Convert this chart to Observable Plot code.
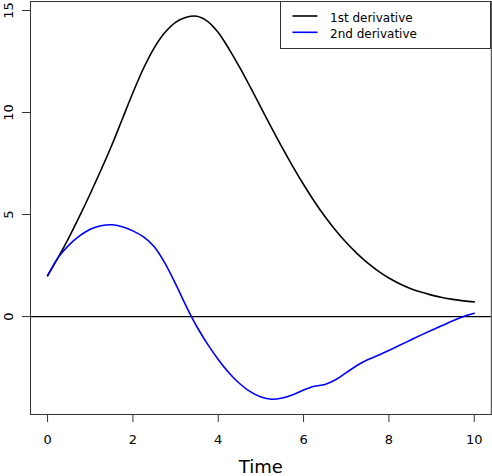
<!DOCTYPE html>
<html>
<head>
<meta charset="utf-8">
<script src="https://cdn.jsdelivr.net/npm/d3@7"></script>
<script src="https://cdn.jsdelivr.net/npm/@observablehq/plot@0.6"></script>
<style>
  html, body { margin: 0; padding: 0; background: #fff; }
  #wrap { position: relative; width: 492px; height: 476px; font-family: "DejaVu Sans", sans-serif; }
  #legend { position: absolute; left: 0; top: 0; pointer-events: none; }
</style>
</head>
<body>
<div id="wrap"></div>
<script>
const times = [0,0.25,0.5,0.75,1,1.25,1.5,1.75,2,2.25,2.5,2.75,3,3.25,3.5,3.75,4,4.25,4.5,4.75,5,5.25,5.5,5.75,6,6.25,6.5,6.75,7,7.25,7.5,7.75,8,8.25,8.5,8.75,9,9.25,9.5,9.75,10];
const firstDeriv = [2.0,2.9,3.87,4.92,6.02,7.17,8.37,9.67,10.97,12.17,13.17,13.92,14.42,14.67,14.72,14.47,13.92,13.12,12.22,11.25,10.25,9.25,8.28,7.35,6.47,5.65,4.9,4.23,3.63,3.1,2.63,2.23,1.89,1.61,1.38,1.2,1.05,0.93,0.84,0.77,0.72];
const secondDeriv = [2.0,2.9,3.5,3.95,4.28,4.45,4.5,4.4,4.2,3.9,3.42,2.62,1.6,0.5,-0.5,-1.35,-2.1,-2.75,-3.28,-3.68,-3.94,-4.05,-3.99,-3.83,-3.6,-3.42,-3.33,-3.1,-2.75,-2.4,-2.12,-1.9,-1.66,-1.41,-1.16,-0.91,-0.67,-0.44,-0.21,0.0,0.16];
const xTicks = [0,2,4,6,8,10];
const yTicks = [0,5,10,15];
const seriesNames = ["1st derivative","2nd derivative"];
const seriesColors = ["#000000","#0000ff"];

const d1 = times.map((t,i) => ({t, v: firstDeriv[i]}));
const d2 = times.map((t,i) => ({t, v: secondDeriv[i]}));

const chart = Plot.plot({
  width: 492,
  height: 476,
  marginLeft: 30,
  marginRight: 1.2,
  marginTop: 1,
  marginBottom: 62,
  style: { fontFamily: "DejaVu Sans, sans-serif", fontSize: "13px", background: "#fff", color: "#000" },
  x: { domain: [-0.4, 10.4], axis: null },
  y: { domain: [-4.80, 15.44], axis: null },
  marks: [
    Plot.ruleY([0], { stroke: "#000", strokeWidth: 1.3 }),
    Plot.line(d1, { x: "t", y: "v", stroke: seriesColors[0], strokeWidth: 1.6, curve: "catmull-rom" }),
    Plot.line(d2, { x: "t", y: "v", stroke: seriesColors[1], strokeWidth: 1.6, curve: "catmull-rom" }),
    Plot.frame({ stroke: "#333", strokeWidth: 1 }),
    Plot.axisX(xTicks, { tickSize: 8, tickPadding: 12, stroke: "#333", fill: "#000", fontSize: 13, label: null }),
    Plot.axisY(yTicks, { tickSize: 8, stroke: "#333", tickFormat: () => "", label: null }),
    Plot.text(yTicks, { y: d => d, text: d => String(d), frameAnchor: "left", dx: -22, rotate: -90, fontSize: 13, fill: "#000", lineAnchor: "middle", textAnchor: "middle" }),
    Plot.text(["Time"], { text: d => d, frameAnchor: "bottom", dy: 52.5, fontSize: 18, fill: "#000", lineAnchor: "middle" })
  ]
});

const wrap = document.getElementById("wrap");
wrap.appendChild(chart);

// Legend overlay (inside the plot frame, top-right)
const NS = "http://www.w3.org/2000/svg";
const lg = document.createElementNS(NS, "svg");
lg.setAttribute("id", "legend");
lg.setAttribute("width", 492);
lg.setAttribute("height", 60);
const box = document.createElementNS(NS, "rect");
box.setAttribute("x", 280.5); box.setAttribute("y", 1.5);
box.setAttribute("width", 210); box.setAttribute("height", 47);
box.setAttribute("fill", "#fff"); box.setAttribute("stroke", "#333"); box.setAttribute("stroke-width", 1);
lg.appendChild(box);
const rowsY = [16, 32.3];
seriesNames.forEach((name, i) => {
  const ln = document.createElementNS(NS, "line");
  ln.setAttribute("x1", 292.5); ln.setAttribute("x2", 317.5);
  ln.setAttribute("y1", rowsY[i]); ln.setAttribute("y2", rowsY[i]);
  ln.setAttribute("stroke", seriesColors[i]); ln.setAttribute("stroke-width", 1.6);
  lg.appendChild(ln);
  const tx = document.createElementNS(NS, "text");
  tx.setAttribute("x", 330); tx.setAttribute("y", rowsY[i] + 5.8);
  tx.setAttribute("font-family", "DejaVu Sans, sans-serif");
  tx.setAttribute("font-size", 12);
  tx.setAttribute("fill", "#000");
  tx.textContent = name;
  lg.appendChild(tx);
});
wrap.appendChild(lg);
</script>
</body>
</html>
